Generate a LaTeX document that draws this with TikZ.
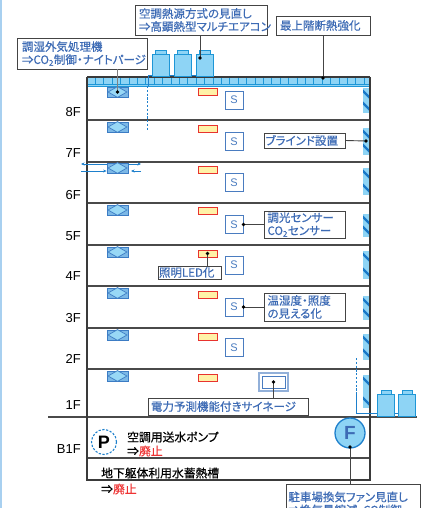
\documentclass[tikz,border=0pt]{standalone}
\usepackage{fontspec}
\setmainfont{Noto Sans CJK JP}[RawFeature=+palt]
\newfontfamily\jpmedium{Noto Sans CJK JP}[RawFeature=+palt,FakeBold=0.5]
\newfontfamily\latin{Liberation Sans}
\usetikzlibrary{calc,arrows.meta}

\definecolor{skyfill}{HTML}{8ED4F5}
\definecolor{skyline}{HTML}{1E96D6}
\definecolor{unitline}{HTML}{3C7CC4}
\definecolor{ahufill}{HTML}{7CB8E6}
\definecolor{diafill}{HTML}{98D8F6}
\definecolor{labelblue}{HTML}{3D6BB5}
\definecolor{sensorblue}{HTML}{4A7CC0}
\definecolor{lampfill}{HTML}{FFF2A8}
\definecolor{lampline}{HTML}{E8332E}
\definecolor{wallgray}{HTML}{3A3A3A}
\definecolor{floorgray}{HTML}{4A4A4A}
\definecolor{leadergray}{HTML}{444444}
\definecolor{alertred}{HTML}{EE3333}
\definecolor{blinddark}{HTML}{1878C8}
\definecolor{pipeblue}{HTML}{1E80CC}
\definecolor{edgeblue}{HTML}{A8D0F0}

\newcommand\notefont{\jpmedium\fontsize{11.5}{13}\selectfont}
\newcommand\bodyfont{\jpmedium\fontsize{11.8}{13}\selectfont}

\begin{document}
\begin{tikzpicture}[x=1pt,y=-1pt,
  wall/.style={draw=wallgray,line width=1.4pt},
  floorline/.style={draw=floorgray,line width=1.1pt},
  ahu/.style={draw=unitline,fill=ahufill,line width=0.8pt,minimum width=21pt,minimum height=10pt,inner sep=0pt},
  lamp/.style={draw=lampline,fill=lampfill,line width=0.8pt,minimum width=19pt,minimum height=7pt,inner sep=0pt},
  sensor/.style={draw=sensorblue,line width=0.9pt,fill=white,minimum size=18pt,inner sep=0pt,text=sensorblue,font=\latin\fontsize{11}{11}\selectfont},
  note/.style={draw=leadergray,line width=0.9pt,fill=white,text=labelblue,align=left,inner sep=0pt,font=\notefont},
  leader/.style={draw=leadergray,line width=0.9pt},
  dot/.style={circle,fill=black,inner sep=0pt,minimum size=3.6pt},
  odu/.style={draw=skyline,fill=skyfill,line width=0.9pt},
  floorlabel/.style={anchor=east,font=\latin\fontsize{13}{13}\selectfont,text=black,inner sep=0pt},
  airflow/.style={draw=pipeblue,line width=0.9pt,-{Stealth[length=3.5pt,width=3pt]}},
  pipe/.style={draw=pipeblue,line width=1pt},
  dashpipe/.style={draw=pipeblue,line width=1pt,dash pattern=on 2.2pt off 1.6pt},
]
\useasboundingbox (0,0) rectangle (430,508);
\clip (0,0) rectangle (430,508);
\fill[edgeblue] (0,0) rectangle (1.6,508);

% ground line
\draw[draw=floorgray,line width=2pt] (48,417) -- (417,417);

% floor slabs
\foreach \y in {120,162,203,245,286,328,369}{
  \draw[floorline] (87,\y) -- (370,\y);
}
\draw[floorline] (87,458) -- (370,458);

% window blinds along the east facade
\foreach \a/\b in {88/113,128/155,168/195,214/237,251/279,296/320,334/360,375/408}{
  \begin{scope}
    \clip (363,\a) rectangle (370,\b);
    \fill[skyfill] (363,\a) rectangle (370,\b);
    \draw[blinddark,line width=2.4pt] (361,\a+1) -- (371,\a+11);
    \draw[blinddark,line width=2.4pt] (361,\b-12) -- (371,\b-2);
  \end{scope}
}

% roof insulation band
\fill[skyfill] (87,77) rectangle (370,86);
\foreach \i in {0,...,33}{
  \draw[skyline,line width=0.8pt] (87+8.4*\i,77) -- (87+8.4*\i,84);
}
\draw[skyline,line width=0.9pt] (87,77) rectangle (370,86);
\draw[skyline,line width=1pt] (87,84.5) -- (370,84.5);

% building outline
\draw[wall] (87,77) -- (87,480) -- (370,480) -- (370,77);
\draw[draw=wallgray,line width=1.2pt] (87,77) -- (370,77);

% roof-top outdoor units and refrigerant pipe
\draw[pipe] (148,86) -- (148,75.5) -- (213,75.5);
\draw[dashpipe] (147.5,86) -- (147.5,131);
\foreach \k/\x in {1/152,2/174,3/196}{
  \draw[odu] (\x+3,50) rectangle (\x+14,54);
  \draw[odu] (\x,54) rectangle (\x+17,76);
}
\coordinate (rooftopdot) at (200,58);

% outdoor units at ground level
\draw[dashpipe] (356,358) -- (356,393);
\draw[pipe] (356,393) -- (356,413) -- (415,413);
\foreach \x in {377,398}{
  \draw[odu] (\x+4,390) rectangle (\x+14,394);
  \draw[odu] (\x,394) rectangle (\x+17,416);
}

% air handling units
\foreach \n/\c in {8/92,7/127,6/168,5/210,4/252,3/293,2/335,1/376}{
  \node[ahu] (ahu\n) at (117.5,\c) {};
  \draw[draw=unitline,fill=diafill,line width=0.7pt]
    ($(ahu\n.west)+(1.5,0)$) -- (ahu\n.north) -- ($(ahu\n.east)+(-1.5,0)$) -- (ahu\n.south) -- cycle;
}

% outdoor air / exhaust air on 6F
\draw[airflow] (ahu6.west |- 0,164) -- (81,164);
\draw[airflow] (ahu6.east |- 0,164) -- (141,164);
\draw[airflow] (81,171) -- (ahu6.west |- 0,171);
\draw[airflow] (141,171) -- (131,171);

% lighting fixtures
\foreach \n/\c in {8/91.5,7/128.5,6/170,5/211,4/253.5,3/295,2/337,1/378}{
  \node[lamp] (lamp\n) at (207.5,\c) {};
}

% sensors
\foreach \n/\c in {8/100,7/141.5,6/182.5,5/224.5,4/265,3/307,2/347.5}{
  \node[sensor] (sens\n) at (234,\c) {S};
}

% digital signage
\draw[draw=sensorblue!60,line width=1.2pt] (259,373) rectangle (288,391);
\node[draw=sensorblue,line width=0.9pt,minimum width=23pt,minimum height=12pt,inner sep=0pt] (sign) at (273.5,382) {};

% floor labels
\foreach \t/\y in {8F/112,7F/153,6F/195,5F/236,4F/276,3F/318,2F/359,1F/405,B1F/449}{
  \node[floorlabel] at (81,\y) {\t};
}

% basement equipment
\node[circle,draw=pipeblue,line width=1.1pt,dash pattern=on 2.2pt off 1.6pt,minimum size=25pt,inner sep=0pt,
      font=\latin\bfseries\fontsize{18}{18}\selectfont] (pump) at (104,442) {P};
\node[anchor=west,inner sep=0pt,font=\bodyfont] (pumptxt) at (127,437) {空調用送水ポンプ};
\node[anchor=west,inner sep=0pt,font=\bodyfont] (pumpnote) at (127,451) {⇒\textcolor{alertred}{廃止}};
\node[anchor=west,inner sep=0pt,font=\bodyfont] (tanktxt) at (101,473) {地下躯体利用水蓄熱槽};
\node[anchor=west,inner sep=0pt,font=\bodyfont] (tanknote) at (101,489) {⇒\textcolor{alertred}{廃止}};
\node[circle,draw=pipeblue,fill=skyfill,line width=1.3pt,minimum size=30pt,inner sep=0pt,text=labelblue,
      font=\latin\bfseries\fontsize{19}{19}\selectfont] (fan) at (350,433) {F};
\coordinate (fandot) at (350,447);

% annotation boxes
\node[note,minimum width=130pt,minimum height=31pt,text width=120pt] (nDOAS) at (82,53.5)
  {調湿外気処理機\\⇒CO\textsubscript{2}制御・ナイトパージ};
\node[note,minimum width=132pt,minimum height=30pt,text width=124pt] (nHeat) at (201,20)
  {空調熱源方式の見直し\\⇒高顕熱型マルチエアコン};
\node[note,minimum width=94pt,minimum height=19pt,text width=86pt] (nRoof) at (323,25.5)
  {最上階断熱強化};
\node[note,minimum width=81pt,minimum height=15pt,text width=78pt] (nBlind) at (304.5,140.5)
  {ブラインド設置};
\node[note,minimum width=81pt,minimum height=27pt,text width=74pt] (nDim) at (304.5,224.5)
  {調光センサー\\CO\textsubscript{2}センサー};
\node[note,minimum width=63pt,minimum height=13pt,text width=61pt] (nLED) at (189.5,272.5)
  {照明LED化};
\node[note,minimum width=81pt,minimum height=28pt,text width=74pt] (nView) at (304.5,307)
  {温湿度・照度\\の見える化};
\node[note,minimum width=160pt,minimum height=17pt,text width=154pt] (nSign) at (228,406.5)
  {電力予測機能付きサイネージ};
\node[note,minimum width=134pt,minimum height=38pt,text width=130pt,anchor=north west] (nFan) at (286,484)
  {駐車場換気ファン見直し\\⇒換気量縮減・CO制御};

% leader lines
\coordinate (roofdot) at (323,78);
\coordinate (blinddot) at (366,141);
\draw[leader,line width=1.3pt,draw=gray] (nDOAS.south -| ahu8.center) -- (ahu8.center);
\draw[leader] (nHeat.south -| rooftopdot) -- (rooftopdot);
\draw[leader] (nRoof.south) -- (roofdot);
\draw[leader] (nBlind.east) -- (blinddot);
\draw[leader] (sens5.east) -- (nDim.west |- sens5.east);
\draw[leader] (lamp4.center) -- (lamp4.center |- nLED.north);
\draw[leader] (sens3.east) -- (nView.west |- sens3.east);
\draw[leader] (sign.center) -- (sign.center |- nSign.north);
\draw[leader] (fandot) -- (fandot |- nFan.north);
\foreach \p in {ahu8.center,rooftopdot,roofdot,blinddot,sens5.east,lamp4.center,sens3.east,sign.center,fandot}{
  \node[dot] at (\p) {};
}
\end{tikzpicture}
\end{document}
